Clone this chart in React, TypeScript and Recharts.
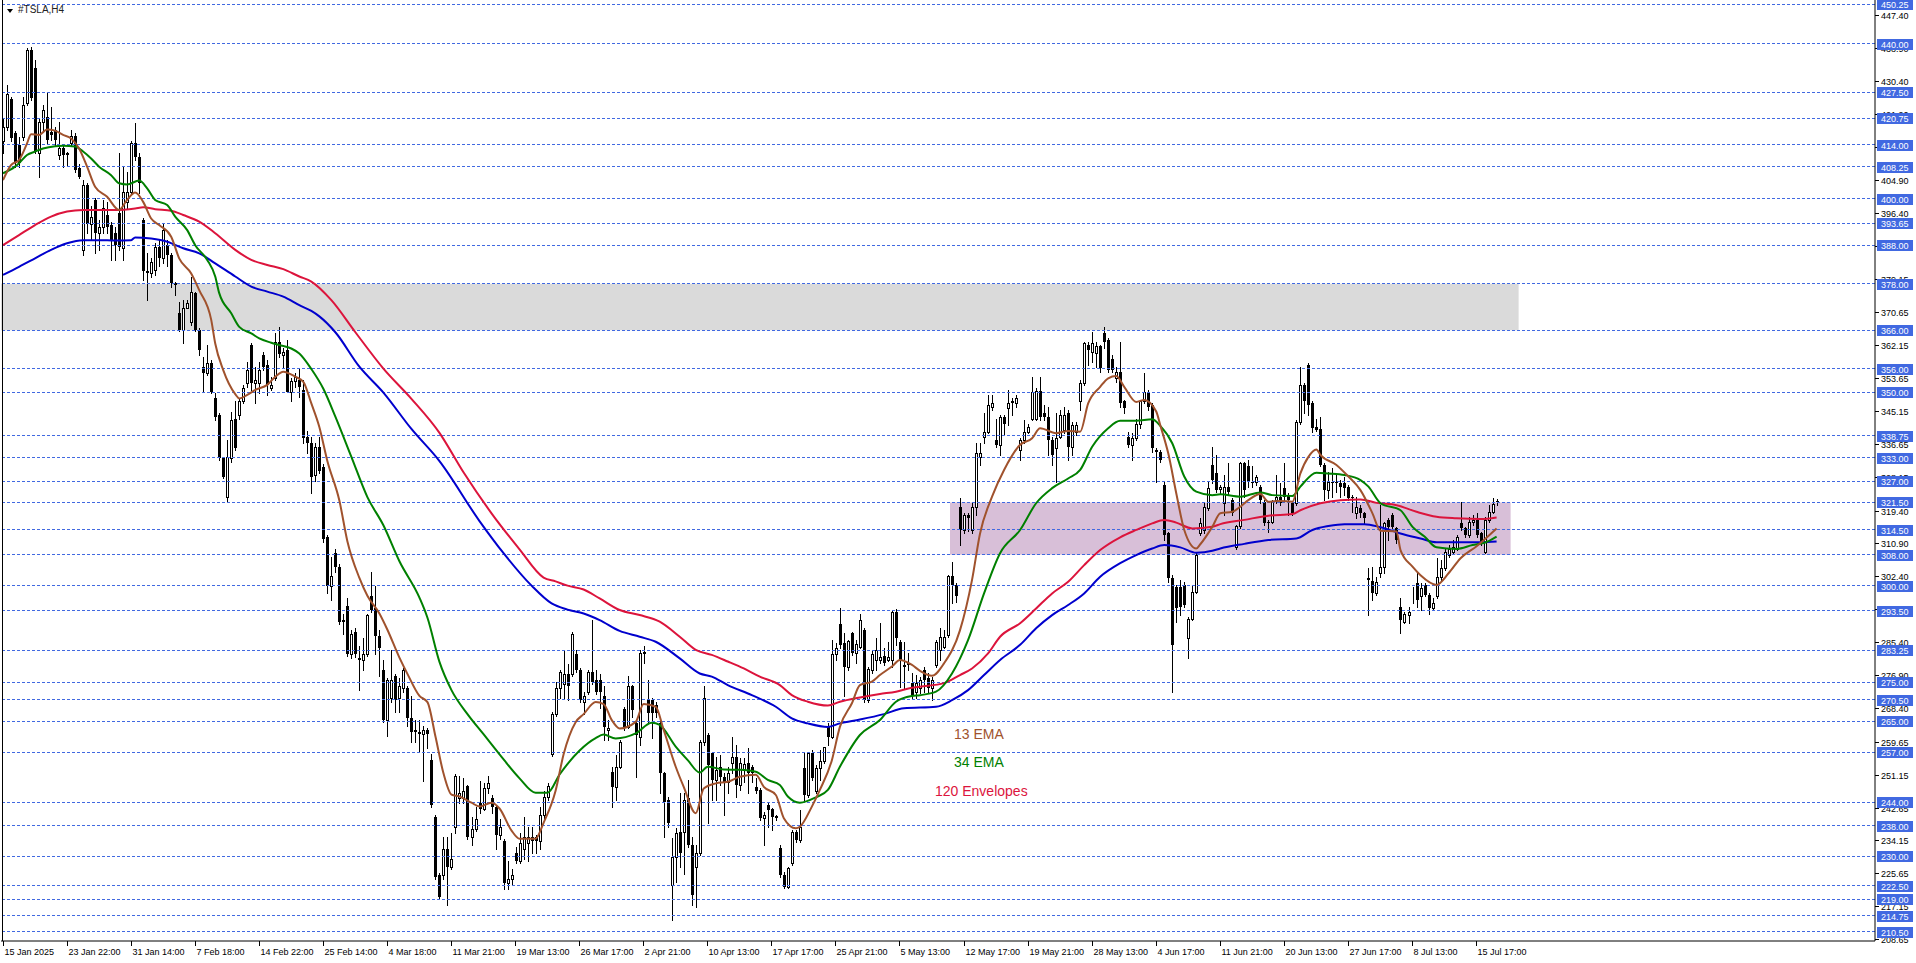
import React from 'react';
import { ComposedChart, Bar, Line, XAxis, YAxis, ReferenceLine, ReferenceArea } from 'recharts';

// #TSLA,H4 bars from 15 Jan 2025, one row per bar: [open, high, low, close]
const candles: [number, number, number, number][] = [
  // 0
  [414.8, 420.8, 411.7, 418.6], [418.6, 429.4, 417.8, 427.2], [425.8, 426.4, 414.8, 415.6], [416.9, 417.5, 408.3, 409.6],
  [414.0, 416.0, 408.3, 409.2], [416.0, 426.4, 415.2, 424.2], [424.7, 438.9, 424.2, 438.4], [438.4, 439.3, 425.5, 426.0],
  [433.7, 435.9, 411.7, 412.2], [411.7, 420.8, 405.7, 419.9],
  // 10
  [419.9, 424.2, 417.3, 422.9], [421.2, 427.7, 414.3, 415.2], [417.3, 423.8, 415.2, 416.5], [417.8, 418.6, 413.9, 415.2],
  [411.3, 419.9, 410.4, 413.1], [413.1, 414.0, 408.3, 411.3], [411.9, 412.0, 408.7, 411.3], [414.3, 417.8, 413.9, 416.1],
  [416.1, 416.9, 407.0, 407.4], [407.9, 409.1, 405.3, 405.7],
  // 20
  [386.8, 404.9, 385.5, 403.6], [403.6, 404.0, 391.1, 393.6], [393.6, 398.0, 389.3, 395.4], [399.7, 400.1, 385.9, 391.1],
  [391.1, 394.5, 386.8, 392.8], [392.8, 399.7, 391.1, 397.5], [395.8, 399.2, 391.1, 392.8], [393.2, 394.1, 384.2, 389.3],
  [391.1, 392.8, 384.2, 388.1], [396.2, 411.7, 386.8, 387.6],
  // 30
  [387.2, 408.3, 384.2, 401.8], [399.2, 407.0, 397.5, 401.8], [401.8, 414.8, 401.4, 414.3], [414.3, 419.5, 410.0, 410.9],
  [410.9, 411.7, 401.4, 404.0], [394.5, 394.9, 379.0, 381.2], [381.2, 385.9, 373.8, 380.7], [380.7, 384.6, 379.9, 383.7],
  [381.6, 388.5, 380.3, 387.6], [387.6, 389.3, 382.5, 384.6],
  // 40
  [384.6, 393.6, 383.3, 391.9], [388.1, 389.3, 382.5, 385.5], [385.5, 385.9, 377.3, 378.1], [378.1, 378.6, 375.1, 377.7],
  [370.4, 373.4, 365.7, 366.1], [366.1, 373.8, 362.6, 371.7], [371.7, 373.8, 371.7, 373.0], [368.2, 379.9, 367.4, 376.0],
  [375.6, 376.0, 365.7, 366.1], [366.1, 366.5, 359.6, 360.9],
  // 50
  [356.6, 359.2, 350.1, 354.9], [354.9, 362.2, 354.5, 357.5], [357.5, 358.3, 349.7, 350.1], [348.4, 349.7, 342.8, 343.7],
  [344.1, 344.5, 332.5, 332.9], [332.9, 333.3, 327.7, 328.2], [323.0, 337.6, 321.7, 333.3], [332.9, 345.0, 332.0, 342.8],
  [343.2, 347.6, 335.1, 335.5], [344.1, 348.4, 343.2, 347.6],
  // 60
  [347.6, 351.9, 347.1, 351.0], [352.3, 357.9, 351.4, 355.7], [362.2, 362.6, 350.6, 352.3], [352.3, 356.6, 347.1, 353.2],
  [352.3, 357.9, 349.7, 355.7], [359.6, 360.5, 355.7, 356.6], [357.0, 358.3, 349.3, 351.9], [351.0, 354.0, 350.6, 351.9],
  [353.6, 365.2, 353.2, 363.0], [363.0, 366.9, 359.2, 360.0],
  // 70
  [359.6, 361.3, 356.6, 360.5], [360.9, 363.5, 350.1, 350.1], [350.1, 353.6, 347.6, 352.8], [352.8, 354.9, 351.4, 354.0],
  [353.1, 356.2, 348.8, 351.4], [350.6, 353.1, 336.8, 338.1], [338.5, 340.0, 334.2, 336.9], [336.9, 338.5, 323.9, 328.1],
  [328.6, 336.9, 327.0, 335.9], [335.9, 338.5, 329.0, 329.6],
  // 80
  [330.7, 331.5, 311.2, 312.0], [312.5, 313.0, 298.0, 300.0], [300.0, 307.3, 296.4, 302.6], [308.4, 309.5, 303.5, 304.7],
  [304.7, 305.5, 290.0, 290.7], [291.2, 292.8, 287.6, 290.7], [294.8, 296.9, 281.9, 282.4], [282.4, 288.5, 281.3, 287.6],
  [288.1, 289.0, 281.5, 282.4], [281.3, 284.5, 273.0, 280.8],
  // 90
  [280.8, 286.5, 278.2, 282.4], [282.4, 292.8, 281.9, 292.3], [297.4, 303.6, 293.3, 293.8], [294.3, 300.0, 282.4, 287.0],
  [287.0, 288.6, 276.7, 283.9], [278.2, 280.8, 264.7, 265.2], [265.2, 276.1, 261.1, 275.6], [271.0, 283.4, 269.9, 275.6],
  [276.7, 277.2, 267.3, 270.4], [271.0, 276.1, 267.3, 274.1],
  // 100
  [273.6, 278.7, 272.5, 278.2], [273.6, 274.1, 263.7, 265.7], [265.7, 271.5, 259.5, 262.1], [262.6, 265.2, 259.5, 262.1],
  [262.1, 265.2, 256.9, 261.6], [261.6, 263.7, 249.6, 262.6], [262.6, 263.2, 258.0, 261.6], [254.9, 256.4, 242.9, 243.4],
  [240.3, 240.8, 224.2, 224.7], [225.3, 225.8, 219.0, 219.5],
  // 110
  [225.3, 235.1, 224.2, 232.0], [232.0, 235.1, 217.4, 227.3], [227.3, 236.2, 226.8, 229.4], [237.7, 251.2, 236.2, 250.7],
  [245.0, 250.7, 243.9, 246.5], [245.0, 250.2, 243.9, 247.0], [248.1, 248.6, 234.6, 235.1], [235.1, 240.3, 233.0, 237.2],
  [237.2, 242.9, 236.7, 239.8], [243.9, 249.6, 241.3, 242.4],
  // 120
  [242.4, 249.1, 241.9, 247.6], [247.6, 250.7, 246.5, 249.1], [245.0, 246.0, 241.3, 242.9], [242.9, 243.4, 232.0, 235.6],
  [235.6, 239.8, 234.6, 237.7], [234.1, 234.6, 221.6, 223.2], [223.2, 228.9, 221.6, 224.2], [224.2, 226.8, 222.6, 225.3],
  [231.0, 232.5, 228.4, 228.9], [228.9, 236.2, 228.4, 233.6],
  // 130
  [232.0, 240.3, 229.4, 235.1], [233.6, 237.7, 228.9, 235.1], [235.1, 237.7, 231.0, 234.1], [235.1, 235.6, 231.0, 234.1],
  [234.1, 242.9, 232.0, 240.8], [240.8, 247.0, 239.8, 245.5], [245.5, 249.1, 244.5, 248.1], [256.4, 267.3, 255.9, 266.8],
  [266.8, 275.1, 266.3, 273.6], [273.6, 278.2, 271.0, 277.7],
  // 140
  [274.6, 283.4, 271.0, 277.2], [277.2, 279.8, 270.4, 274.1], [277.2, 288.1, 276.7, 287.6], [282.4, 283.4, 277.7, 278.2],
  [278.2, 278.7, 269.9, 270.4], [269.9, 272.5, 266.8, 271.5], [272.5, 278.2, 272.0, 277.7], [277.7, 291.2, 274.6, 275.1],
  [275.6, 278.2, 272.0, 272.5], [275.6, 277.2, 268.4, 272.5],
  // 150
  [271.6, 274.0, 260.1, 263.5], [262.7, 265.3, 260.1, 263.1], [251.9, 253.2, 242.9, 248.0], [248.0, 256.2, 244.6, 253.2],
  [253.2, 260.1, 252.8, 259.7], [268.0, 268.7, 262.7, 263.5], [263.5, 276.6, 263.1, 274.1], [274.1, 274.3, 266.1, 267.9],
  [264.4, 265.3, 250.6, 261.4], [261.0, 283.4, 258.8, 282.5],
  // 160
  [282.5, 284.4, 279.9, 282.9], [270.4, 275.6, 264.4, 267.0], [270.4, 270.9, 260.5, 267.0], [269.1, 270.0, 266.0, 267.0],
  [264.4, 265.3, 246.3, 251.5], [251.5, 251.9, 235.1, 244.2], [244.6, 245.5, 237.7, 238.6], [222.6, 234.7, 213.6, 229.9],
  [229.9, 237.3, 223.5, 236.0], [236.4, 246.3, 227.4, 230.8],
  // 170
  [236.4, 246.3, 225.6, 244.6], [245.0, 249.8, 232.5, 233.0], [233.0, 235.1, 217.5, 220.0], [227.4, 233.0, 217.0, 230.8],
  [230.8, 260.1, 230.4, 259.7], [259.7, 274.1, 258.8, 270.9], [261.4, 261.8, 238.6, 253.6], [256.7, 257.1, 244.6, 249.8],
  [249.8, 255.8, 244.6, 252.3], [253.2, 256.2, 248.5, 250.6],
  // 180
  [250.6, 251.5, 240.7, 249.3], [249.3, 253.2, 246.3, 251.5], [254.1, 260.9, 251.5, 255.8], [255.8, 258.8, 245.5, 248.5],
  [248.5, 255.4, 247.2, 254.1], [252.3, 255.4, 249.3, 253.9], [254.1, 258.0, 246.3, 251.5], [253.2, 253.6, 249.3, 251.5],
  [248.0, 250.2, 246.3, 246.8], [247.2, 247.6, 239.4, 239.9],
  // 190
  [239.9, 241.6, 233.0, 240.7], [243.3, 243.7, 237.7, 242.0], [242.4, 242.6, 236.9, 240.3], [240.4, 240.7, 239.4, 239.9],
  [232.1, 233.0, 224.8, 225.2], [225.2, 226.1, 221.8, 222.2], [222.2, 227.4, 221.8, 226.9], [228.2, 236.8, 227.8, 236.4],
  [236.4, 236.8, 233.8, 234.3], [234.3, 242.0, 233.8, 237.7],
  // 200
  [252.8, 257.1, 244.2, 245.9], [245.9, 257.1, 245.5, 256.7], [256.7, 257.5, 249.8, 250.2], [246.8, 253.6, 246.3, 252.8],
  [252.8, 257.5, 249.8, 254.7], [254.7, 258.4, 254.1, 258.2], [263.5, 264.4, 258.8, 261.0], [261.0, 285.9, 260.5, 282.3],
  [282.3, 285.3, 280.8, 284.0], [290.1, 294.1, 283.8, 284.7],
  // 210
  [285.1, 287.7, 271.5, 279.1], [279.1, 285.9, 278.2, 285.7], [287.7, 288.1, 282.1, 282.5], [282.5, 285.9, 279.9, 284.8],
  [284.2, 292.8, 283.8, 291.1], [288.5, 289.0, 270.0, 270.4], [270.4, 279.1, 270.0, 278.4], [278.2, 283.4, 277.3, 282.3],
  [280.8, 286.4, 278.2, 283.5], [280.8, 290.3, 279.9, 281.6],
  // 220
  [281.8, 283.8, 279.5, 279.9], [280.8, 285.5, 280.4, 281.6], [280.8, 293.7, 279.1, 293.3], [293.3, 293.9, 284.7, 286.4],
  [285.5, 285.9, 273.9, 280.8], [279.5, 285.5, 273.5, 279.1], [279.9, 282.5, 278.2, 279.5], [274.8, 277.3, 270.9, 271.7],
  [272.6, 276.9, 270.9, 274.8], [273.5, 276.5, 272.2, 275.6],
  // 230
  [278.2, 279.1, 272.6, 275.6], [276.1, 277.3, 272.2, 273.5], [273.5, 276.5, 270.4, 275.6], [279.5, 285.9, 279.1, 285.5],
  [283.4, 289.0, 280.8, 286.8], [284.2, 288.5, 283.8, 286.8], [287.2, 302.8, 286.8, 302.5], [302.5, 306.2, 295.4, 300.2],
  [300.2, 300.6, 295.9, 297.2], [320.4, 322.6, 310.5, 314.4],
  // 240
  [314.4, 318.7, 313.5, 318.3], [318.3, 318.7, 314.0, 317.4], [314.4, 321.7, 313.5, 320.4], [320.4, 336.8, 318.3, 334.2],
  [333.3, 336.8, 331.2, 334.2], [338.5, 344.5, 336.8, 339.8], [339.8, 349.3, 339.4, 346.7], [346.3, 349.3, 345.4, 347.1],
  [337.6, 343.2, 335.9, 336.3], [336.3, 344.1, 333.8, 343.7],
  // 250
  [343.7, 344.1, 339.0, 341.9], [345.8, 350.6, 341.5, 347.1], [347.6, 348.4, 344.1, 347.1], [347.1, 349.3, 346.3, 348.6],
  [335.1, 338.1, 332.6, 337.6], [337.6, 342.8, 336.8, 339.8], [339.8, 341.9, 339.4, 341.1], [343.2, 354.0, 342.8, 350.1],
  [343.2, 351.0, 342.8, 350.4], [350.4, 354.0, 342.8, 343.7],
  // 260
  [344.5, 346.7, 342.8, 343.7], [343.7, 346.3, 333.8, 337.6], [337.6, 338.5, 331.2, 333.8], [335.5, 344.5, 326.9, 338.1],
  [338.5, 345.4, 338.1, 344.1], [340.2, 346.3, 339.4, 344.1], [344.5, 345.4, 332.5, 335.9], [335.9, 342.4, 333.8, 341.5],
  [339.8, 342.4, 338.9, 341.5], [347.6, 353.2, 345.4, 352.5],
  // 270
  [352.5, 363.1, 351.9, 362.6], [362.2, 363.1, 357.0, 360.9], [360.5, 365.6, 357.9, 362.6], [360.2, 363.1, 356.6, 361.9],
  [361.9, 362.2, 355.3, 356.2], [365.2, 366.9, 361.3, 363.1], [363.5, 363.9, 355.3, 355.7], [358.7, 359.6, 355.3, 355.7],
  [353.6, 356.6, 352.7, 355.3], [355.3, 363.1, 346.3, 347.1],
  // 280
  [347.6, 348.0, 344.5, 345.8], [338.5, 339.8, 335.9, 336.3], [336.3, 339.4, 332.6, 338.1], [338.1, 343.2, 337.6, 341.9],
  [341.9, 348.0, 340.7, 347.6], [347.6, 354.9, 347.1, 350.1], [350.1, 350.6, 345.4, 346.3], [346.7, 347.1, 334.6, 335.5],
  [335.1, 335.5, 326.9, 334.6], [334.6, 335.1, 332.0, 332.5],
  // 290
  [326.0, 326.9, 311.8, 313.1], [313.5, 313.9, 301.0, 301.9], [301.9, 302.7, 272.6, 284.7], [299.7, 300.2, 290.7, 294.1],
  [299.7, 301.5, 292.4, 294.6], [300.2, 301.0, 294.6, 295.0], [286.4, 292.0, 281.2, 291.5], [291.5, 300.2, 291.1, 298.4],
  [298.4, 308.8, 298.0, 307.9], [313.5, 317.4, 313.1, 316.1],
  // 300
  [314.4, 321.7, 313.5, 320.4], [320.0, 326.9, 319.6, 325.2], [331.2, 335.9, 326.5, 327.3], [329.0, 333.8, 324.3, 324.7],
  [324.9, 326.0, 323.9, 325.6], [321.3, 328.6, 318.3, 325.6], [325.6, 331.6, 323.4, 324.3], [322.1, 322.6, 318.3, 318.7],
  [310.1, 315.7, 309.6, 315.3], [315.3, 332.0, 314.8, 331.6],
  // 310
  [331.6, 332.0, 323.0, 324.7], [330.8, 332.5, 325.6, 326.9], [326.9, 330.8, 325.6, 326.5], [326.9, 328.6, 326.0, 328.2],
  [325.6, 326.0, 321.3, 322.1], [321.7, 322.1, 315.7, 316.1], [316.5, 316.9, 313.9, 316.1], [316.5, 322.1, 316.1, 321.7],
  [322.1, 328.6, 321.3, 323.0], [323.0, 326.5, 320.9, 321.3],
  // 320
  [325.2, 331.6, 322.1, 323.0], [323.4, 323.9, 318.3, 322.1], [321.3, 321.7, 318.3, 318.7], [321.3, 342.8, 320.9, 342.4],
  [342.4, 356.6, 341.9, 351.9], [351.9, 352.3, 344.5, 347.6], [357.0, 357.5, 344.1, 346.7], [347.1, 347.6, 339.8, 340.7],
  [340.9, 343.2, 340.1, 340.2], [340.4, 343.7, 330.8, 331.2],
  // 330
  [331.2, 331.6, 322.1, 324.7], [324.7, 329.5, 322.6, 326.9], [326.9, 330.3, 323.0, 326.6], [326.9, 329.0, 324.3, 326.5],
  [326.6, 327.3, 323.0, 325.6], [326.6, 328.2, 323.4, 325.2], [325.6, 326.0, 322.1, 322.6], [323.0, 323.4, 319.1, 322.6],
  [318.7, 323.0, 317.4, 320.4], [320.0, 320.9, 317.8, 318.7],
  // 340
  [318.7, 319.1, 316.1, 317.4], [301.9, 304.5, 292.4, 301.5], [301.3, 304.9, 296.3, 298.0], [298.0, 302.3, 297.6, 301.0],
  [303.2, 320.9, 302.3, 304.9], [304.9, 316.5, 303.2, 316.1], [316.9, 317.4, 311.8, 315.2], [318.3, 318.7, 314.4, 315.2],
  [314.8, 315.2, 310.9, 311.8], [294.6, 296.7, 287.7, 291.1],
  // 350
  [290.7, 293.3, 290.3, 292.8], [292.4, 294.6, 290.3, 293.3], [296.7, 299.7, 295.4, 296.9], [300.6, 303.2, 294.6, 296.3],
  [297.2, 300.6, 293.7, 299.3], [300.2, 300.6, 297.2, 297.6], [297.6, 298.0, 292.8, 294.1], [294.1, 296.7, 293.7, 295.4],
  [297.2, 307.1, 296.7, 302.3], [302.3, 306.6, 301.5, 304.5],
  // 360
  [304.5, 309.6, 304.1, 308.8], [307.9, 310.5, 307.5, 309.6], [308.8, 311.8, 308.4, 310.1], [309.6, 313.1, 309.2, 312.7],
  [316.1, 321.7, 314.4, 314.8], [314.8, 315.2, 312.7, 313.1], [313.1, 317.8, 312.7, 316.5], [316.5, 318.3, 315.7, 316.9],
  [316.9, 318.7, 312.7, 313.1], [313.5, 313.9, 310.5, 310.9],
  // 370
  [308.8, 317.8, 308.4, 316.9], [316.9, 320.9, 316.5, 319.1], [319.1, 322.6, 318.7, 321.1], [321.9, 322.3, 320.9, 321.5],
];

// indicator readings: [bar index, value]
const ema13: [number, number][] = [
  [0, 404.8], [2, 408.7], [4, 410.0], [6, 414.3], [7, 416.7], [9, 416.5], [11, 417.9], [13, 417.6], [15, 416.5],
  [17, 415.6], [19, 413.0], [21, 408.3], [23, 403.1], [26, 400.5], [29, 397.1], [31, 399.7], [33, 401.6], [35, 399.2],
  [37, 394.9], [39, 393.2], [42, 390.2], [44, 384.6], [47, 380.7], [49, 376.4], [52, 368.7], [53, 362.6], [55, 355.7],
  [58, 349.5], [59, 348.4], [61, 349.3], [63, 350.6], [66, 351.9], [68, 354.0], [70, 355.3], [73, 354.0], [75, 352.7],
  [77, 347.1], [79, 341.0], [81, 332.2], [84, 322.0], [86, 311.5], [89, 302.0], [91, 297.4], [94, 292.8], [96, 288.6],
  [99, 281.4], [101, 277.2], [104, 271.5], [106, 269.9], [108, 261.0], [110, 251.5], [112, 246.0], [114, 245.5],
  [117, 243.9], [119, 242.9], [122, 243.9], [124, 242.4], [127, 236.7], [129, 234.6], [133, 234.6], [135, 238.7],
  [138, 247.0], [140, 256.4], [143, 264.7], [145, 266.8], [148, 269.9], [150, 269.4], [152, 265.3], [154, 263.1],
  [158, 264.8], [160, 269.4], [163, 268.7], [165, 262.7], [168, 253.2], [170, 248.0], [173, 241.2], [175, 247.6],
  [178, 248.9], [181, 249.3], [184, 250.6], [188, 251.1], [190, 248.0], [193, 245.9], [195, 239.9], [198, 237.3],
  [199, 237.7], [202, 242.9], [204, 247.2], [207, 254.9], [209, 263.5], [212, 269.6], [214, 274.3], [217, 275.2],
  [219, 276.9], [222, 279.1], [224, 280.8], [227, 279.5], [229, 278.0], [232, 276.7], [235, 279.9], [239, 288.5],
  [242, 301.5], [244, 313.5], [247, 323.0], [250, 329.9], [254, 336.4], [257, 338.1], [259, 340.7], [263, 339.4],
  [266, 340.0], [269, 339.8], [271, 347.1], [274, 351.4], [276, 353.6], [278, 354.2], [280, 351.4], [283, 347.5],
  [285, 348.0], [288, 345.0], [289, 341.5], [291, 334.2], [293, 323.9], [295, 314.4], [298, 309.6], [299, 310.7],
  [302, 315.2], [304, 318.7], [307, 319.1], [309, 320.4], [311, 322.1], [314, 323.7], [316, 321.7], [319, 321.9],
  [322, 321.7], [324, 329.0], [326, 333.3], [328, 335.2], [329, 333.8], [333, 331.2], [336, 328.2], [339, 324.7],
  [342, 318.7], [344, 314.2], [348, 314.0], [349, 309.2], [352, 304.9], [354, 302.7], [358, 300.2], [361, 303.2],
  [364, 307.1], [368, 310.2], [373, 314.8],
];

const ema34: [number, number][] = [
  [0, 406.6], [3, 408.3], [4, 409.2], [6, 411.3], [8, 412.2], [10, 413.0], [13, 413.6], [15, 413.7], [18, 413.5],
  [20, 412.2], [22, 410.4], [24, 408.3], [27, 406.1], [29, 404.0], [31, 403.7], [34, 404.7], [36, 402.7], [38, 399.7],
  [41, 398.4], [43, 395.4], [46, 391.9], [48, 388.0], [51, 384.2], [53, 379.9], [54, 375.6], [57, 370.4], [59, 366.9],
  [62, 365.2], [64, 363.9], [67, 362.8], [69, 362.2], [72, 361.3], [74, 360.0], [77, 356.0], [80, 350.9], [83, 343.7],
  [87, 333.3], [91, 322.9], [95, 315.6], [99, 306.3], [104, 296.9], [106, 291.7], [109, 280.3], [112, 273.0],
  [116, 266.8], [120, 261.6], [124, 256.4], [129, 250.2], [133, 246.5], [136, 246.5], [139, 251.2], [144, 257.4],
  [148, 260.6], [150, 261.5], [153, 260.5], [158, 261.8], [162, 264.6], [164, 264.0], [168, 258.4], [171, 254.9],
  [174, 251.7], [176, 253.2], [180, 252.5], [184, 252.4], [188, 251.9], [191, 249.8], [194, 248.5], [196, 245.5],
  [199, 243.9], [203, 245.3], [206, 247.2], [209, 253.2], [214, 261.4], [219, 265.3], [223, 270.0], [227, 271.5],
  [229, 271.7], [233, 272.6], [237, 277.3], [241, 285.9], [245, 298.0], [249, 308.4], [254, 314.4], [258, 321.3],
  [262, 325.2], [266, 327.7], [269, 329.9], [272, 335.9], [276, 340.7], [279, 342.6], [283, 342.6], [287, 343.0],
  [289, 341.3], [292, 336.8], [295, 328.2], [298, 324.3], [302, 323.4], [304, 323.6], [309, 323.0], [314, 324.1],
  [317, 323.4], [322, 323.2], [324, 325.6], [328, 329.2], [331, 329.0], [335, 328.6], [339, 327.3], [341, 325.6],
  [344, 321.3], [349, 319.5], [352, 315.2], [355, 312.7], [358, 309.9], [363, 309.5], [367, 310.5], [370, 311.1],
  [373, 312.7],
];

const envUpper: [number, number][] = [
  [0, 388.0], [4, 390.6], [8, 393.2], [12, 395.4], [16, 396.7], [20, 397.1], [24, 397.1], [28, 397.1], [33, 397.5],
  [35, 397.8], [38, 397.3], [42, 396.9], [45, 395.8], [49, 394.1], [53, 391.1], [58, 386.8], [62, 384.2], [66, 382.9],
  [70, 381.8], [74, 379.9], [77, 378.6], [82, 373.8], [88, 365.5], [95, 356.1], [102, 348.3], [109, 339.5],
  [115, 329.3], [122, 318.7], [129, 309.4], [135, 302.1], [138, 301.1], [141, 300.0], [145, 299.0], [149, 296.7],
  [154, 293.7], [159, 292.4], [164, 290.7], [169, 286.8], [173, 283.4], [177, 282.1], [181, 280.4], [185, 278.6],
  [189, 276.5], [194, 274.3], [197, 271.7], [201, 270.0], [206, 269.0], [209, 270.0], [214, 271.1], [219, 272.0],
  [223, 272.6], [227, 273.6], [229, 273.9], [235, 274.8], [239, 276.9], [242, 278.6], [246, 282.5], [249, 286.8],
  [254, 290.3], [258, 294.1], [262, 298.0], [266, 301.0], [270, 305.3], [274, 309.2], [279, 312.5], [283, 314.4],
  [287, 316.1], [290, 317.0], [293, 316.3], [297, 314.8], [302, 315.2], [304, 315.9], [310, 317.0], [316, 318.1],
  [322, 318.5], [324, 319.5], [329, 321.3], [334, 322.1], [339, 322.3], [343, 321.4], [348, 320.8], [353, 319.1],
  [358, 317.8], [363, 317.4], [369, 317.2], [373, 317.6],
];

const envLower: [number, number][] = [
  [0, 380.3], [4, 382.4], [8, 384.6], [12, 386.8], [16, 388.5], [20, 389.3], [24, 389.3], [28, 389.2], [32, 389.3],
  [33, 390.0], [37, 389.7], [41, 388.9], [45, 387.2], [49, 385.9], [53, 383.3], [58, 379.9], [62, 377.3], [66, 376.0],
  [70, 374.7], [74, 372.5], [77, 371.0], [79, 369.6], [83, 365.5], [89, 356.6], [95, 349.9], [102, 340.5],
  [109, 332.2], [119, 316.7], [125, 308.4], [132, 300.0], [137, 295.4], [141, 293.8], [145, 292.8], [149, 291.1],
  [154, 288.3], [159, 286.8], [163, 285.5], [169, 281.2], [174, 277.3], [177, 276.5], [181, 274.3], [187, 271.7],
  [193, 268.7], [197, 265.7], [201, 264.4], [206, 263.5], [209, 264.4], [214, 265.4], [220, 266.8], [225, 268.3],
  [233, 268.7], [237, 270.4], [241, 273.0], [245, 276.9], [249, 280.8], [254, 284.7], [258, 289.0], [262, 292.4],
  [266, 295.0], [270, 298.0], [274, 302.3], [279, 305.8], [283, 307.9], [287, 309.6], [290, 310.5], [294, 309.9],
  [298, 308.5], [302, 309.0], [304, 309.6], [310, 310.8], [316, 311.8], [323, 312.2], [327, 314.4], [331, 315.4],
  [335, 315.9], [340, 315.9], [344, 315.1], [349, 313.5], [354, 312.2], [358, 311.2], [364, 311.2], [369, 311.2],
  [373, 311.4],
];

// horizontal line objects (blue labels on the price scale)
const levels = [
  450.25, 440.0, 427.5, 420.75, 414.0, 408.25, 400.0, 393.65, 388.0, 378.0, 366.0, 356.0, 350.0, 338.75, 333.0,
  327.0, 321.5, 314.5, 308.0, 300.0, 293.5, 283.25, 275.0, 270.5, 265.0, 257.0, 244.0, 238.0, 230.0, 222.5, 219.0,
  214.75, 210.5,
];

const priceTicks = [
  447.4, 438.9, 430.4, 421.9, 413.4, 404.9, 396.4, 387.9, 379.15, 370.65, 362.15, 353.65, 345.15, 336.65, 328.15,
  319.4, 310.9, 302.4, 293.9, 285.4, 276.9, 268.4, 259.65, 251.15, 242.65, 234.15, 225.65, 217.15, 208.65,
];

const timeLabels = [
  '15 Jan 2025', '23 Jan 22:00', '31 Jan 14:00', '7 Feb 18:00', '14 Feb 22:00', '25 Feb 14:00', '4 Mar 18:00',
  '11 Mar 21:00', '19 Mar 13:00', '26 Mar 17:00', '2 Apr 21:00', '10 Apr 13:00', '17 Apr 17:00', '25 Apr 21:00',
  '5 May 13:00', '12 May 17:00', '19 May 21:00', '28 May 13:00', '4 Jun 17:00', '11 Jun 21:00', '20 Jun 13:00',
  '27 Jun 17:00', '8 Jul 13:00', '15 Jul 17:00',
];

const W = 1916;
const H = 963;
const SLOTS = 468; // bars + empty shift area on the right
const BARS_PER_LABEL = 16;
const PLOT_BOTTOM = 941;
const FONT = '"Liberation Sans", Arial, sans-serif';

const m13 = new Map(ema13);
const m34 = new Map(ema34);
const mUp = new Map(envUpper);
const mLo = new Map(envLower);

const rows = Array.from({ length: SLOTS }, (_, i) => {
  const k = candles[i];
  return {
    i,
    o: k ? k[0] : undefined,
    h: k ? k[1] : undefined,
    l: k ? k[2] : undefined,
    c: k ? k[3] : undefined,
    e13: m13.get(i),
    e34: m34.get(i),
    up: mUp.get(i),
    lo: mLo.get(i),
  };
});

const timeTicks = timeLabels.map((_, k) => k * BARS_PER_LABEL);
const levelSet = new Set(levels);

const Candle = (props: any) => {
  const { x, y, width, height, payload } = props;
  if (!payload || payload.o == null || !isFinite(y) || !isFinite(height)) return <g />;
  const { o, h, l, c } = payload;
  const span = h - l || 1;
  const py = (v: number) => y + ((h - v) / span) * height;
  const cx = Math.floor(x + width / 2);
  const yTop = Math.round(py(Math.max(o, c)));
  const yBot = Math.round(py(Math.min(o, c)));
  const up = c >= o;
  return (
    <g>
      <line x1={cx + 0.5} x2={cx + 0.5} y1={Math.round(y)} y2={Math.round(y + height) + 1} stroke="#000" strokeWidth={1} />
      {up ? (
        <rect x={cx - 0.5} y={yTop + 0.5} width={2} height={Math.max(yBot - yTop, 0)} fill="#fff" stroke="#000" strokeWidth={1} />
      ) : (
        <rect x={cx - 1} y={yTop} width={3} height={Math.max(yBot - yTop, 1)} fill="#000" />
      )}
    </g>
  );
};

const XTick = (props: any) => {
  const { x, payload } = props;
  const px = Math.floor(x) + 0.5;
  const label = timeLabels[Math.round(payload.value / BARS_PER_LABEL)];
  return (
    <g>
      <line x1={px} x2={px} y1={PLOT_BOTTOM} y2={PLOT_BOTTOM + 5} stroke="#000" strokeWidth={1} />
      <text x={px + 1} y={PLOT_BOTTOM + 14} fontSize={9} fill="#000" fontFamily={FONT}>
        {label}
      </text>
    </g>
  );
};

const YTick = (props: any) => {
  const { x, y, payload } = props;
  const v = payload.value as number;
  const yy = Math.round(y);
  if (levelSet.has(v)) {
    return (
      <g>
        <rect x={x + 2} y={yy - 5} width={36} height={11} fill="#4169E1" />
        <text x={x + 6} y={yy + 4} fontSize={9} fill="#fff" fontFamily={FONT}>
          {v.toFixed(2)}
        </text>
      </g>
    );
  }
  return (
    <g>
      <line x1={x} x2={x + 4} y1={yy + 0.5} y2={yy + 0.5} stroke="#000" strokeWidth={1} />
      <text x={x + 6} y={yy + 4} fontSize={9} fill="#000" fontFamily={FONT}>
        {v.toFixed(2)}
      </text>
    </g>
  );
};

const App: React.FC = () => {
  return (
    <div style={{ position: 'absolute', left: 0, top: 0, width: W, height: H, background: '#fff', fontFamily: FONT }}>
      <ComposedChart width={W} height={H} data={rows} margin={{ top: 0, right: 0, bottom: 0, left: 1 }}>
        <XAxis
          dataKey="i"
          type="category"
          ticks={timeTicks}
          interval={0}
          tick={XTick}
          tickLine={false}
          tickSize={0}
          tickMargin={0}
          axisLine={{ stroke: '#000' }}
          height={22}
        />
        <YAxis
          orientation="right"
          type="number"
          domain={[208.16, 451.37]}
          allowDataOverflow
          ticks={[...priceTicks, ...levels]}
          interval={0}
          tick={YTick}
          tickLine={false}
          tickSize={0}
          tickMargin={0}
          axisLine={{ stroke: '#000' }}
          width={41}
        />
        <ReferenceArea x1={0} x2={378} y1={366} y2={378} fill="#DADADA" fillOpacity={1} stroke="none" />
        <ReferenceArea x1={237} x2={376} y1={308} y2={321.5} fill="#D8BFD8" fillOpacity={1} stroke="none" />
        {levels.map((v) => (
          <ReferenceLine key={v} y={v} stroke="#4169E1" strokeWidth={1} strokeDasharray="3 2" shapeRendering="crispEdges" />
        ))}
        <Bar
          dataKey={(d: any) => (d.o == null ? null : [d.l, d.h])}
          barSize={3}
          shape={Candle}
          isAnimationActive={false}
        />
        <Line dataKey="lo" type="monotone" stroke="#0000CD" strokeWidth={2} dot={false} activeDot={false} connectNulls isAnimationActive={false} />
        <Line dataKey="up" type="monotone" stroke="#DC143C" strokeWidth={2} dot={false} activeDot={false} connectNulls isAnimationActive={false} />
        <Line dataKey="e34" type="monotone" stroke="#008000" strokeWidth={2} dot={false} activeDot={false} connectNulls isAnimationActive={false} />
        <Line dataKey="e13" type="monotone" stroke="#A0522D" strokeWidth={2} dot={false} activeDot={false} connectNulls isAnimationActive={false} />
      </ComposedChart>

      {/* chart frame, left edge */}
      <div style={{ position: 'absolute', left: 2, top: 0, width: 1, height: PLOT_BOTTOM, background: '#000' }} />

      {/* symbol caption */}
      <div
        style={{
          position: 'absolute', left: 7, top: 9, width: 0, height: 0,
          borderLeft: '3px solid transparent', borderRight: '3px solid transparent', borderTop: '4px solid #000',
        }}
      />
      <div style={{ position: 'absolute', left: 18, top: 4, fontSize: 10, lineHeight: '12px', color: '#222' }}>#TSLA,H4</div>

      {/* indicator captions */}
      <div style={{ position: 'absolute', left: 954, top: 726, fontSize: 14, lineHeight: '16px', color: '#A0522D' }}>13 EMA</div>
      <div style={{ position: 'absolute', left: 954, top: 754, fontSize: 14, lineHeight: '16px', color: '#008000' }}>34 EMA</div>
      <div style={{ position: 'absolute', left: 935, top: 783, fontSize: 14, lineHeight: '16px', color: '#DC143C' }}>120 Envelopes</div>
    </div>
  );
};

export default App;
